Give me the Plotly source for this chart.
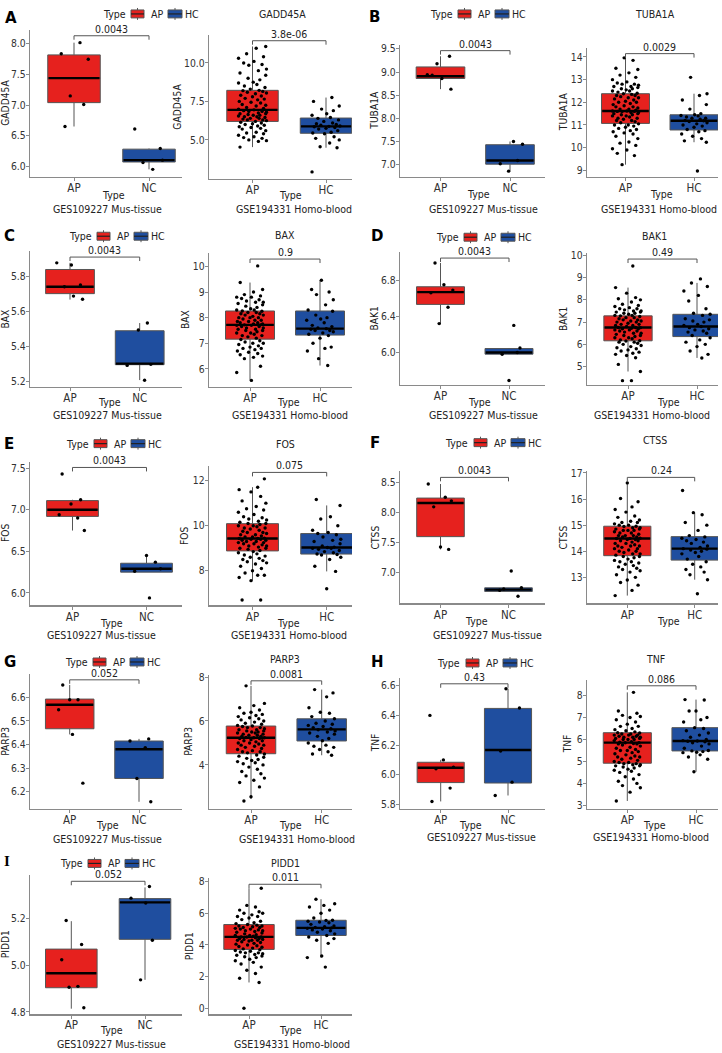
import plotly.graph_objects as go

W, H = 722, 1053

# ---------------- data ----------------
GENES = ["GADD45A", "TUBA1A", "BAX", "BAK1", "FOS", "CTSS", "PARP3", "TNF", "PIDD1"]
LETTERS = ["A", "B", "C", "D", "E", "F", "G", "H", "I"]
MUS_GROUPS = ["AP", "NC"]
HUM_GROUPS = ["AP", "HC"]
LEGEND_LABELS = ["AP", "HC"]
MUS_CAPTION = "GES109227 Mus-tissue"
HUM_CAPTION = "GSE194331 Homo-blood"

MUS_P = ["0.0043", "0.0043", "0.0043", "0.0043", "0.0043", "0.0043", "0.052", "0.43", "0.052"]
HUM_P = ["3.8e-06", "0.0029", "0.9", "0.49", "0.075", "0.24", "0.0081", "0.086", "0.011"]

# box statistics [lower whisker, q1, median, q3, upper whisker]
MUS_AP_BOX = [[6.65, 7.04, 7.44, 7.82, 8.02], [8.63, 8.86, 8.91, 9.11, 9.34], [5.67, 5.704, 5.743, 5.842, 5.88],
              [6.31, 6.532, 6.668, 6.727, 6.99], [6.75, 6.92, 7.0, 7.11, 7.12], [7.38, 7.593, 8.154, 8.236, 8.47],
              [6.443, 6.467, 6.569, 6.593, 6.653], [5.82, 5.947, 6.047, 6.084, 6.10], [4.814, 4.904, 4.966, 5.07, 5.19]]
MUS_NC_BOX = [[5.95, 6.07, 6.10, 6.28, 6.29], [6.86, 7.01, 7.09, 7.43, 7.50], [5.21, 5.298, 5.304, 5.492, 5.536],
              [5.98, 5.982, 6.0, 6.044, 6.05], [6.25, 6.25, 6.29, 6.357, 6.45], [6.68, 6.68, 6.71, 6.74, 6.74],
              [6.157, 6.256, 6.38, 6.415, 6.424], [5.86, 5.944, 6.167, 6.447, 6.58], [4.938, 5.112, 5.271, 5.287, 5.335]]
HUM_AP_BOX = [[4.53, 6.20, 6.95, 8.22, 11.07], [9.25, 11.07, 11.62, 12.38, 13.96], [5.55, 7.16, 7.72, 8.26, 9.37],
              [4.78, 6.16, 6.76, 7.28, 8.55], [7.56, 8.88, 9.43, 10.09, 11.71], [12.3, 13.83, 14.49, 14.96, 16.62],
              [2.45, 4.51, 5.24, 5.77, 7.6], [3.2, 4.92, 5.86, 6.31, 8.15], [1.63, 3.72, 4.51, 5.29, 7.58]]
HUM_HC_BOX = [[4.49, 5.43, 5.88, 6.42, 7.75], [10.24, 10.78, 11.19, 11.45, 12.38], [6.13, 7.32, 7.57, 8.26, 9.46],
              [5.39, 6.35, 6.80, 7.35, 8.76], [7.97, 8.74, 9.03, 9.65, 10.9], [12.91, 13.66, 14.10, 14.56, 15.48],
              [4.44, 5.09, 5.62, 6.10, 7.43], [4.53, 5.48, 5.93, 6.54, 7.82], [3.2, 4.60, 5.08, 5.56, 6.89]]

# individual samples
GADD45A_MUS_AP = [7.84, 8.02, 7.75, 7.15, 7.01, 6.65]
GADD45A_MUS_NC = [6.61, 6.29, 6.06, 5.95, 6.10]
TUBA1A_MUS_AP = [9.18, 9.34, 8.93, 8.86, 8.94, 8.63]
TUBA1A_MUS_NC = [7.50, 7.44, 7.02, 7.09, 6.86]
BAX_MUS_AP = [5.868, 5.88, 5.753, 5.743, 5.69, 5.672]
BAX_MUS_NC = [5.536, 5.496, 5.294, 5.209, 5.30]
BAK1_MUS_AP = [6.99, 6.75, 6.69, 6.66, 6.50, 6.32]
BAK1_MUS_NC = [6.30, 6.05, 5.98, 5.69, 6.00]
FOS_MUS_AP = [7.43, 7.12, 7.07, 6.94, 6.90, 6.75]
FOS_MUS_NC = [6.45, 6.37, 6.26, 5.94, 6.29]
CTSS_MUS_AP = [8.47, 8.25, 8.19, 8.09, 7.42, 7.38]
CTSS_MUS_NC = [7.02, 6.74, 6.72, 6.60, 6.70]
PARP3_MUS_AP = [6.653, 6.59, 6.59, 6.548, 6.443, 6.236]
PARP3_MUS_NC = [6.424, 6.415, 6.387, 6.256, 6.157]
TNF_MUS_AP = [6.40, 6.10, 6.05, 6.04, 5.91, 5.82]
TNF_MUS_NC = [6.58, 6.45, 6.16, 5.95, 5.86]
PIDD1_MUS_AP = [5.193, 5.09, 5.024, 4.91, 4.906, 4.818]
PIDD1_MUS_NC = [5.339, 5.289, 5.268, 5.108, 4.938]

GADD45A_HUM_AP = [4.53, 4.9, 4.95, 5.0, 5.1, 5.15, 5.2, 5.3, 5.4, 5.45, 5.5, 5.6, 5.7, 5.75, 5.8, 5.85, 5.9, 5.95, 6.0,
                  6.05, 6.1, 6.15, 6.2, 6.25, 6.3, 6.3, 6.35, 6.4, 6.4, 6.45, 6.5, 6.5, 6.55, 6.6, 6.6, 6.65, 6.7, 6.7,
                  6.75, 6.8, 6.85, 6.85, 6.9, 6.95, 7.0, 7.05, 7.1, 7.2, 7.25, 7.3, 7.4, 7.45, 7.5, 7.6, 7.65, 7.7, 7.8,
                  7.85, 7.9, 8.0, 8.05, 8.1, 8.15, 8.2, 8.22, 8.3, 8.4, 8.5, 8.6, 8.7, 8.75, 8.9, 9.0, 9.2, 9.35, 9.5,
                  9.6, 9.85, 9.9, 10.0, 10.1, 10.3, 10.4, 10.6, 10.95, 11.07]
GADD45A_HUM_HC = [2.92, 4.49, 4.55, 4.8, 5.0, 5.1, 5.2, 5.4, 5.45, 5.5, 5.6, 5.7, 5.75, 5.8, 5.85, 5.88, 5.9, 5.95,
                  6.0, 6.05, 6.1, 6.2, 6.3, 6.4, 6.45, 6.6, 6.7, 6.9, 7.0, 7.2, 7.5, 7.75]
TUBA1A_HUM_AP = [9.25, 9.65, 9.75, 9.9, 9.95, 10.1, 10.2, 10.25, 10.4, 10.5, 10.6, 10.65, 10.7, 10.75, 10.8, 10.85,
                 10.9, 10.95, 11.0, 11.0, 11.05, 11.1, 11.15, 11.2, 11.2, 11.25, 11.3, 11.3, 11.35, 11.4, 11.4, 11.45,
                 11.45, 11.5, 11.5, 11.55, 11.55, 11.6, 11.6, 11.6, 11.62, 11.62, 11.65, 11.7, 11.7, 11.75, 11.8,
                 11.8, 11.85, 11.9, 11.95, 12.0, 12.0, 12.05, 12.1, 12.15, 12.2, 12.2, 12.25, 12.3, 12.3, 12.35,
                 12.38, 12.4, 12.45, 12.5, 12.5, 12.55, 12.6, 12.6, 12.65, 12.7, 12.7, 12.75, 12.8, 12.8, 12.85,
                 12.9, 13.0, 13.1, 13.2, 13.3, 13.45, 13.5, 13.85, 13.96]
TUBA1A_HUM_HC = [8.97, 10.24, 10.3, 10.4, 10.5, 10.6, 10.7, 10.75, 10.8, 10.9, 10.95, 11.0, 11.05, 11.1, 11.15, 11.19,
                 11.2, 11.25, 11.3, 11.3, 11.35, 11.4, 11.42, 11.45, 11.5, 11.7, 11.9, 12.1, 12.3, 12.38, 13.1]
BAX_HUM_AP = [5.55, 5.86, 6.1, 6.4, 6.45, 6.5, 6.55, 6.6, 6.65, 6.7, 6.75, 6.8, 6.8, 6.85, 6.9, 6.95, 7.0, 7.0, 7.05,
              7.1, 7.15, 7.2, 7.25, 7.3, 7.3, 7.35, 7.4, 7.4, 7.45, 7.5, 7.5, 7.55, 7.55, 7.6, 7.6, 7.65, 7.65, 7.7,
              7.7, 7.72, 7.72, 7.75, 7.75, 7.8, 7.8, 7.85, 7.85, 7.9, 7.9, 7.95, 8.0, 8.0, 8.0, 8.05, 8.1, 8.1, 8.15,
              8.15, 8.2, 8.2, 8.25, 8.26, 8.3, 8.3, 8.35, 8.4, 8.45, 8.5, 8.55, 8.6, 8.6, 8.65, 8.7, 8.75, 8.8, 8.8,
              8.85, 8.9, 9.0, 9.1, 9.37, 10.02]
BAX_HUM_HC = [6.13, 6.4, 6.7, 6.8, 6.85, 7.0, 7.2, 7.3, 7.35, 7.4, 7.45, 7.5, 7.5, 7.55, 7.57, 7.6, 7.65, 7.7, 7.8,
              7.9, 7.95, 8.0, 8.1, 8.25, 8.3, 8.5, 8.7, 8.9, 9.0, 9.1, 9.46]
BAK1_HUM_AP = [4.37, 4.37, 4.78, 5.1, 5.4, 5.5, 5.55, 5.6, 5.65, 5.7, 5.75, 5.8, 5.85, 5.9, 5.95, 6.0, 6.05, 6.1, 6.1,
               6.15, 6.16, 6.2, 6.25, 6.3, 6.3, 6.35, 6.4, 6.4, 6.45, 6.5, 6.5, 6.55, 6.6, 6.6, 6.65, 6.65, 6.7, 6.7,
               6.72, 6.75, 6.76, 6.76, 6.8, 6.85, 6.85, 6.9, 6.9, 6.95, 7.0, 7.0, 7.05, 7.05, 7.1, 7.1, 7.15, 7.2,
               7.2, 7.25, 7.28, 7.3, 7.3, 7.35, 7.4, 7.4, 7.45, 7.45, 7.5, 7.5, 7.55, 7.6, 7.6, 7.65, 7.7, 7.75, 7.8,
               7.9, 8.0, 8.05, 8.1, 8.3, 8.55, 9.52]
BAK1_HUM_HC = [5.39, 5.55, 5.7, 5.9, 6.0, 6.1, 6.2, 6.3, 6.4, 6.5, 6.55, 6.6, 6.65, 6.7, 6.75, 6.8, 6.85, 6.9, 7.0,
               7.05, 7.1, 7.15, 7.3, 7.35, 7.4, 7.6, 7.95, 8.2, 8.4, 8.6, 8.76, 8.94]
FOS_HUM_AP = [6.7, 6.7, 7.56, 7.7, 7.8, 7.8, 7.9, 8.0, 8.1, 8.2, 8.3, 8.35, 8.4, 8.45, 8.5, 8.55, 8.6, 8.65, 8.7, 8.75,
              8.8, 8.85, 8.9, 8.95, 9.0, 9.0, 9.05, 9.1, 9.1, 9.15, 9.2, 9.2, 9.25, 9.25, 9.3, 9.3, 9.35, 9.35, 9.4,
              9.4, 9.43, 9.43, 9.45, 9.5, 9.5, 9.55, 9.6, 9.6, 9.65, 9.7, 9.7, 9.75, 9.8, 9.85, 9.9, 9.9, 9.95, 10.0,
              10.0, 10.05, 10.1, 10.1, 10.15, 10.2, 10.25, 10.3, 10.35, 10.4, 10.5, 10.6, 10.7, 10.75, 10.85, 11.0,
              11.1, 11.3, 11.5, 11.6, 11.71, 12.08]
FOS_HUM_HC = [7.2, 7.97, 8.2, 8.5, 8.6, 8.7, 8.72, 8.74, 8.8, 8.85, 8.9, 8.95, 9.0, 9.0, 9.03, 9.05, 9.1, 9.2, 9.3,
              9.35, 9.4, 9.5, 9.6, 9.65, 9.7, 9.8, 10.0, 10.3, 10.4, 10.9, 11.16]
CTSS_HUM_AP = [12.3, 12.5, 12.7, 12.8, 12.9, 13.0, 13.1, 13.2, 13.25, 13.3, 13.35, 13.4, 13.45, 13.5, 13.55, 13.6,
               13.6, 13.65, 13.7, 13.75, 13.8, 13.8, 13.85, 13.9, 13.9, 13.95, 14.0, 14.0, 14.05, 14.1, 14.1, 14.15,
               14.2, 14.2, 14.2, 14.25, 14.3, 14.3, 14.35, 14.4, 14.4, 14.45, 14.45, 14.49, 14.49, 14.5, 14.55,
               14.55, 14.6, 14.6, 14.6, 14.65, 14.7, 14.7, 14.75, 14.8, 14.8, 14.8, 14.85, 14.85, 14.9, 14.9, 14.95,
               14.96, 15.0, 15.0, 15.05, 15.1, 15.1, 15.15, 15.2, 15.3, 15.35, 15.5, 15.6, 15.7, 15.9, 16.02, 16.62]
CTSS_HUM_HC = [12.37, 12.91, 13.1, 13.2, 13.3, 13.4, 13.5, 13.6, 13.7, 13.8, 13.9, 13.95, 14.0, 14.05, 14.08, 14.1,
               14.15, 14.2, 14.3, 14.35, 14.4, 14.45, 14.5, 14.55, 14.6, 14.8, 15.0, 15.1, 15.4, 15.48, 16.33]
PARP3_HUM_AP = [2.36, 2.55, 3.0, 3.2, 3.3, 3.4, 3.5, 3.6, 3.7, 3.8, 3.9, 4.0, 4.05, 4.1, 4.15, 4.2, 4.25, 4.3, 4.35,
                4.4, 4.45, 4.5, 4.55, 4.6, 4.6, 4.65, 4.7, 4.75, 4.8, 4.85, 4.9, 4.9, 4.95, 5.0, 5.0, 5.05, 5.1, 5.1,
                5.15, 5.2, 5.2, 5.24, 5.24, 5.25, 5.3, 5.3, 5.35, 5.35, 5.4, 5.4, 5.45, 5.45, 5.5, 5.5, 5.55, 5.55,
                5.6, 5.6, 5.65, 5.7, 5.7, 5.75, 5.77, 5.8, 5.85, 5.9, 5.95, 6.0, 6.05, 6.1, 6.15, 6.2, 6.25, 6.3,
                6.35, 6.4, 6.5, 6.6, 6.7, 6.8, 7.6]
PARP3_HUM_HC = [4.44, 4.5, 4.6, 4.7, 4.8, 4.85, 4.9, 5.0, 5.1, 5.2, 5.3, 5.4, 5.45, 5.5, 5.55, 5.6, 5.65, 5.7, 5.75,
                5.8, 5.85, 5.9, 6.0, 6.1, 6.2, 6.35, 6.4, 6.6, 7.1, 7.28, 7.43]
TNF_HUM_AP = [3.2, 3.6, 3.8, 3.9, 4.0, 4.1, 4.2, 4.3, 4.4, 4.5, 4.55, 4.6, 4.65, 4.7, 4.75, 4.8, 4.8, 4.85, 4.85, 4.9,
              4.9, 4.95, 4.95, 5.0, 5.05, 5.1, 5.15, 5.2, 5.2, 5.25, 5.3, 5.35, 5.4, 5.45, 5.5, 5.5, 5.55, 5.6, 5.65,
              5.7, 5.75, 5.8, 5.8, 5.82, 5.85, 5.86, 5.88, 5.9, 5.95, 6.0, 6.0, 6.0, 6.05, 6.05, 6.1, 6.1, 6.1, 6.15,
              6.15, 6.2, 6.2, 6.2, 6.25, 6.25, 6.3, 6.31, 6.35, 6.4, 6.45, 6.5, 6.6, 6.6, 6.7, 6.8, 6.9, 7.0, 7.05,
              7.1, 7.2, 7.3, 8.15]
TNF_HUM_HC = [4.53, 5.1, 5.2, 5.3, 5.4, 5.42, 5.45, 5.48, 5.5, 5.6, 5.7, 5.8, 5.85, 5.9, 5.92, 5.93, 5.95, 6.0, 6.1,
              6.2, 6.3, 6.4, 6.5, 6.54, 6.8, 6.9, 7.0, 7.3, 7.3, 7.8, 7.82]
PIDD1_HUM_AP = [0.0, 1.63, 1.9, 2.2, 2.4, 2.6, 2.8, 2.9, 3.0, 3.1, 3.2, 3.25, 3.3, 3.35, 3.4, 3.45, 3.5, 3.5, 3.55,
                3.6, 3.65, 3.7, 3.75, 3.8, 3.85, 3.9, 3.95, 4.0, 4.05, 4.1, 4.15, 4.2, 4.25, 4.3, 4.3, 4.3, 4.35,
                4.35, 4.4, 4.4, 4.45, 4.5, 4.5, 4.51, 4.55, 4.6, 4.6, 4.65, 4.7, 4.75, 4.8, 4.85, 4.9, 4.9, 4.95,
                5.0, 5.0, 5.05, 5.1, 5.1, 5.15, 5.2, 5.2, 5.25, 5.29, 5.35, 5.4, 5.5, 5.6, 5.7, 5.8, 5.8, 5.9, 6.0,
                6.0, 6.1, 6.2, 6.4, 6.5, 7.58]
PIDD1_HUM_HC = [2.6, 3.2, 3.3, 4.1, 4.3, 4.4, 4.5, 4.6, 4.7, 4.8, 4.9, 4.95, 5.0, 5.05, 5.08, 5.1, 5.15, 5.2, 5.3,
                5.4, 5.45, 5.5, 5.55, 5.56, 5.7, 6.0, 6.2, 6.4, 6.5, 6.6, 6.89]

MUS_AP = [GADD45A_MUS_AP, TUBA1A_MUS_AP, BAX_MUS_AP, BAK1_MUS_AP, FOS_MUS_AP, CTSS_MUS_AP, PARP3_MUS_AP, TNF_MUS_AP, PIDD1_MUS_AP]
MUS_NC = [GADD45A_MUS_NC, TUBA1A_MUS_NC, BAX_MUS_NC, BAK1_MUS_NC, FOS_MUS_NC, CTSS_MUS_NC, PARP3_MUS_NC, TNF_MUS_NC, PIDD1_MUS_NC]
HUM_AP = [GADD45A_HUM_AP, TUBA1A_HUM_AP, BAX_HUM_AP, BAK1_HUM_AP, FOS_HUM_AP, CTSS_HUM_AP, PARP3_HUM_AP, TNF_HUM_AP, PIDD1_HUM_AP]
HUM_HC = [GADD45A_HUM_HC, TUBA1A_HUM_HC, BAX_HUM_HC, BAK1_HUM_HC, FOS_HUM_HC, CTSS_HUM_HC, PARP3_HUM_HC, TNF_HUM_HC, PIDD1_HUM_HC]

MUS_TICKS = [[6.0, 6.5, 7.0, 7.5, 8.0], [7.0, 7.5, 8.0, 8.5, 9.0, 9.5], [5.2, 5.4, 5.6, 5.8], [6.0, 6.4, 6.8],
             [6.0, 6.5, 7.0, 7.5], [7.0, 7.5, 8.0, 8.5], [6.2, 6.3, 6.4, 6.5, 6.6], [5.8, 6.0, 6.2, 6.4, 6.6],
             [4.8, 5.0, 5.2]]
HUM_TICKS = [[5.0, 7.5, 10.0], [9, 10, 11, 12, 13, 14], [6, 7, 8, 9, 10], [5, 6, 7, 8, 9, 10], [8, 10, 12],
             [13, 14, 15, 16, 17], [4, 6, 8], [3, 4, 5, 6, 7, 8], [0, 2, 4, 6, 8]]
MUS_TICK_DEC = [1, 1, 1, 1, 1, 1, 1, 1, 1]
HUM_TICK_DEC = [1, 0, 0, 0, 0, 0, 0, 0, 0]

# ---------------- geometry (pixels) ----------------
# (axis left, axis right, top, bottom, centre of group 1, centre of group 2, y min, y max)
MUS_GEOM = [(30, 182, 25, 173, 74, 149, 5.83, 8.23), (400, 545, 40, 173, 440.5, 510, 6.74, 9.59),
            (30, 182, 248, 385, 70, 139.7, 5.17, 5.947), (400, 545, 249, 383, 440.5, 509, 5.64, 7.11),
            (30, 182, 460, 605, 72.5, 146.5, 5.85, 7.58), (400, 545, 470, 603, 440.5, 508.5, 6.48, 8.68),
            (30, 182, 674, 810, 69.7, 139, 6.127, 6.70), (400, 545, 678, 810, 440.7, 508, 5.77, 6.653),
            (30, 182, 877, 1017, 71.3, 145, 4.79, 5.387)]
HUM_GEOM = [(209, 352, 30, 175, 252.5, 326, 2.48, 11.83), (587, 718, 43, 173, 625.5, 694, 8.72, 14.41),
            (209, 352, 250, 385, 250, 320, 5.29, 10.52), (587, 718, 250, 383, 628, 697, 4.17, 10.1),
            (209, 352, 465, 605, 252.5, 326.7, 6.46, 12.63), (587, 718, 470, 603, 627.3, 694.7, 12.0, 17.06),
            (209, 352, 675, 810, 251, 321.7, 2.0, 8.1), (587, 718, 680, 810, 627.3, 696, 2.84, 8.72),
            (209, 352, 880, 1017, 249, 321, -0.38, 8.21)]
LEGEND_POS = [(114, 9), (441, 9), (80, 233), (447, 234), (77, 442), (457, 441), (76, 662), (449, 663), (71, 865)]
TITLE_POS = [(282, 9), (655, 9), (285, 232), (654, 233), (285, 442), (655, 438), (285, 659), (655, 659), (285, 865)]
LETTER_POS = [(3, 13), (367, 12), (2, 233), (369, 233), (2, 442), (368, 441), (2, 662), (369, 662), (2, 863)]
MUS_TYPE_POS = [(113, 191), (478, 190), (110, 400), (479, 400), (112, 623), (476, 621), (107, 826), (470, 826), (112, 1033)]
HUM_TYPE_POS = [(290, 191), (661, 190), (288, 400), (668, 400), (288, 623), (668, 621), (290, 826), (654, 826), (290, 1033)]
MUS_CAP_POS = [(107, 206), (483, 206), (107, 413), (483, 413), (101, 635), (487, 635), (108, 840), (482, 838), (111, 1047)]
HUM_CAP_POS = [(294, 206), (659, 206), (290, 413), (652, 413), (289, 635), None, (297, 840), (651, 838), (292, 1047)]
YLAB_OFFSET = {1: 20, 2: 24, 3: 25, 4: 31}

JITTER = [-0.17, 0.08, 0.19, -0.05, 0.13, -0.12, 0.02, -0.19, 0.15, -0.08, 0.05, 0.18, -0.14, 0.11, -0.02, -0.18,
          0.07, 0.16, -0.10, 0.00, 0.12, -0.16, 0.04, 0.19, -0.07, 0.14, -0.13, 0.09, -0.03, 0.17, -0.11, 0.06,
          -0.19, 0.01, 0.10, -0.06, 0.18]

RED = "#E6211E"
BLUE = "#1F4E9F"
EDGE = "#555555"
AXCOL = "#8a8a8a"
TXT = "#222222"
FONT = "DejaVu Sans Condensed, Liberation Sans, sans-serif"
BOX_W = 0.7


def fx(px):
    return px / W


def fy(py):
    return 1 - py / H


fig = go.Figure()
layout = dict(width=W, height=H, margin=dict(l=0, r=0, t=0, b=0), paper_bgcolor="white",
              plot_bgcolor="white", showlegend=False, boxmode="overlay",
              font=dict(family=FONT, color=TXT, size=11))
shapes = []
annotations = []


def txt(x, y, s, size=10.5, **kw):
    d = dict(x=fx(x), y=fy(y), xref="paper", yref="paper", text=s, showarrow=False,
             font=dict(family=FONT, size=size, color=TXT), xanchor="center", yanchor="middle")
    d.update(kw)
    annotations.append(d)


idx = 0
for g in range(9):
    panels = [(MUS_GEOM[g], MUS_GROUPS, [MUS_AP[g], MUS_NC[g]], [MUS_AP_BOX[g], MUS_NC_BOX[g]], MUS_TICKS[g],
               MUS_TICK_DEC[g], MUS_P[g], MUS_TYPE_POS[g], MUS_CAP_POS[g], MUS_CAPTION),
              (HUM_GEOM[g], HUM_GROUPS, [HUM_AP[g], HUM_HC[g]], [HUM_AP_BOX[g], HUM_HC_BOX[g]], HUM_TICKS[g],
               HUM_TICK_DEC[g], HUM_P[g], HUM_TYPE_POS[g], HUM_CAP_POS[g], HUM_CAPTION)]
    for (geom, groups, vals, boxes, ticks, dec, pval, tpos, cpos, caption) in panels:
        idx += 1
        sfx = "" if idx == 1 else str(idx)
        xa, ya = "x" + sfx, "y" + sfx
        axL, axR, top, bot, p1, p2, ymin, ymax = geom
        ppu = p2 - p1
        xr = [1 - (p1 - axL) / ppu, 2 + (axR - p2) / ppu]
        tick_text = [f"{t:.{dec}f}" for t in ticks]
        layout["xaxis" + sfx] = dict(domain=[fx(axL), fx(axR)], range=xr, anchor=ya, tickmode="array",
                                     tickvals=[1, 2], ticktext=groups, showline=True, linecolor=AXCOL,
                                     linewidth=1.3, ticks="outside", ticklen=3, tickcolor=AXCOL,
                                     showgrid=False, zeroline=False, fixedrange=True, ticklabelstandoff=-3,
                                     tickfont=dict(size=11.5, color="#333333", family=FONT))
        layout["yaxis" + sfx] = dict(domain=[fy(bot), fy(top)], range=[ymin, ymax], anchor=xa,
                                     tickmode="array", tickvals=ticks, ticktext=tick_text, showline=True,
                                     linecolor=AXCOL, linewidth=1.3, ticks="outside", ticklen=3,
                                     tickcolor=AXCOL, showgrid=False, zeroline=False, fixedrange=True,
                                     ticklabelstandoff=-2,
                                     tickfont=dict(size=10.3, color="#333333", family=FONT))
        for k in range(2):
            b = boxes[k]
            color = RED if k == 0 else BLUE
            fig.add_trace(go.Box(x=[k + 1], lowerfence=[b[0]], q1=[b[1]], median=[b[2]], q3=[b[3]],
                                 upperfence=[b[4]], width=BOX_W, whiskerwidth=0, fillcolor=color,
                                 line=dict(color=EDGE, width=1), boxpoints=False, hoverinfo="skip",
                                 xaxis=xa, yaxis=ya, showlegend=False))
            fig.add_trace(go.Scatter(x=[k + 1 - BOX_W / 2 + 0.01, k + 1 + BOX_W / 2 - 0.01], y=[b[2], b[2]],
                                     mode="lines", line=dict(color="black", width=2.4), hoverinfo="skip",
                                     xaxis=xa, yaxis=ya, showlegend=False))
            v = vals[k]
            off = 7 * k + 3 * g
            xs = [k + 1 + JITTER[(i + off) % len(JITTER)] for i in range(len(v))]
            fig.add_trace(go.Scatter(x=xs, y=v, mode="markers", marker=dict(size=3.4, color="black"),
                                     hoverinfo="skip", xaxis=xa, yaxis=ya, showlegend=False))
        # significance bracket
        hpx = bot - top
        yb = 1 - 6 / hpx
        yd = 1 - 10 / hpx
        shapes.append(dict(type="path", xref=xa, yref=ya + " domain",
                           path=f"M 1,{yd} L 1,{yb} L 2,{yb} L 2,{yd}",
                           line=dict(color=EDGE, width=1)))
        annotations.append(dict(x=1.5, y=yb, xref=xa, yref=ya + " domain", text=pval, showarrow=False,
                                font=dict(family=FONT, size=10.5, color=TXT), xanchor="center",
                                yanchor="bottom", yshift=-1))
        # y-axis label
        nch = max(len(s) for s in tick_text)
        off_px = YLAB_OFFSET.get(nch, 25)
        txt(max(axL - off_px, 5.5), (top + bot) / 2, GENES[g], size=10.2, textangle=-90)
        # x title and caption
        txt(tpos[0], tpos[1], "Type", size=10.5)
        if cpos is not None:
            txt(cpos[0], cpos[1], caption, size=10.5)

    # legend
    lx, ly = LEGEND_POS[g]
    txt(lx, ly, "Type", size=10.5)
    for k, (x0, x1, tx) in enumerate([(17, 30, 43), (54, 68, 78)]):
        color = RED if k == 0 else BLUE
        cx = lx + (x0 + x1) / 2
        shapes.append(dict(type="line", xref="paper", yref="paper", x0=fx(cx), x1=fx(cx), y0=fy(ly - 6),
                           y1=fy(ly + 6), line=dict(color=EDGE, width=1)))
        shapes.append(dict(type="rect", xref="paper", yref="paper", x0=fx(lx + x0), x1=fx(lx + x1),
                           y0=fy(ly + 4), y1=fy(ly - 4), fillcolor=color, line=dict(color=EDGE, width=1)))
        shapes.append(dict(type="line", xref="paper", yref="paper", x0=fx(lx + x0), x1=fx(lx + x1),
                           y0=fy(ly), y1=fy(ly), line=dict(color="#222222", width=1.2)))
        txt(lx + tx, ly, LEGEND_LABELS[k], size=10.5)
    # gene title
    tx_, ty_ = TITLE_POS[g]
    txt(tx_, ty_, GENES[g], size=10.5)
    # panel letter
    lx2, ly2 = LETTER_POS[g]
    fam = "Liberation Serif, serif" if LETTERS[g] == "I" else "DejaVu Sans, sans-serif"
    annotations.append(dict(x=fx(lx2), y=fy(ly2), xref="paper", yref="paper", text=f"<b>{LETTERS[g]}</b>",
                            showarrow=False, font=dict(family=fam, size=15, color="black"),
                            xanchor="left", yanchor="middle"))

layout["shapes"] = shapes
layout["annotations"] = annotations
fig.update_layout(**layout)

fig.write_html("out.html", config={"displayModeBar": False, "staticPlot": True},
               post_script="document.body.style.margin='0';document.body.style.overflow='hidden';")
